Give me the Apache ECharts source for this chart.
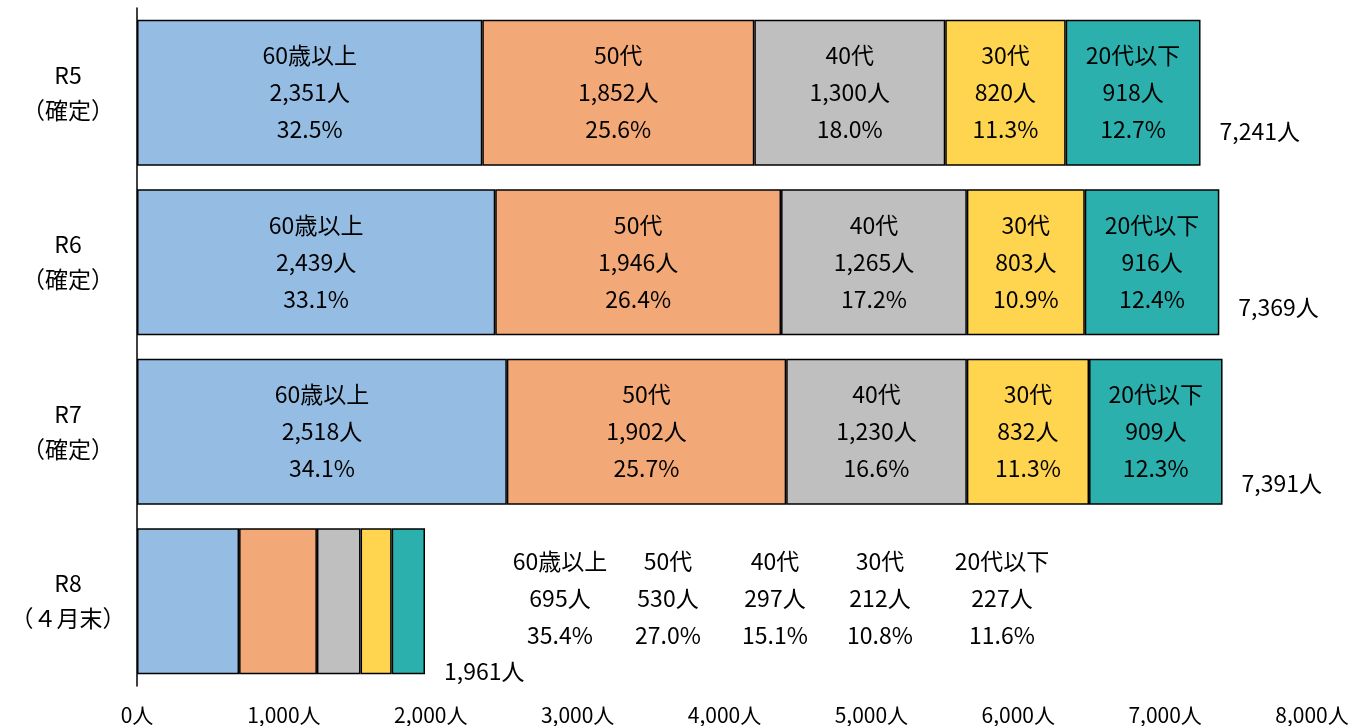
<!DOCTYPE html>
<html>
<head>
<meta charset="utf-8">
<script src="https://cdn.jsdelivr.net/npm/echarts@6/dist/echarts.min.js"></script>
<style>
  html, body { margin: 0; padding: 0; background: #fff; }
  #chart { width: 1352px; height: 726px; }
</style>
</head>
<body>
<div id="chart"></div>
<script>
// data
const categories = ['R5', 'R6', 'R7', 'R8'];
const categoryNotes = ['確定', '確定', '確定', '４月末'];
const groups = ['60歳以上', '50代', '40代', '30代', '20代以下'];
const over60 = [2351, 2439, 2518, 695];
const age50s = [1852, 1946, 1902, 530];
const age40s = [1300, 1265, 1230, 297];
const age30s = [820, 803, 832, 212];
const under20s = [918, 916, 909, 227];
const xTicks = [0, 1000, 2000, 3000, 4000, 5000, 6000, 7000, 8000];

const seriesValues = [over60, age50s, age40s, age30s, under20s];
const totals = categories.map((c, i) => seriesValues.reduce((s, arr) => s + arr[i], 0));

// layout
const FONT = '"Noto Sans CJK JP", "Noto Sans", sans-serif';
const GRID_LEFT = 137, GRID_TOP = 8, GRID_W = 1175, GRID_H = 678;
const X_MAX = 8000;
const colors = ['#95BDE3', '#F3A877', '#BFBFBF', '#FFD44F', '#2BB0AD'];
// R8 labels sit in a row to the right of the short bar
const r8LabelX = [560, 668, 775, 880, 1002];
const totalLabelDy = [39, 45, 52, 70];

const fmt = n => n.toLocaleString('en-US');
const px = v => GRID_LEFT + v * GRID_W / X_MAX;

const series = groups.map((name, si) => ({
  name: name,
  type: 'bar',
  stack: 'total',
  barCategoryGap: '14%',
  itemStyle: { color: colors[si], borderColor: '#000', borderWidth: 1.5 },
  label: {
    show: true,
    position: 'inside',
    color: '#000',
    fontFamily: FONT,
    fontSize: 23,
    lineHeight: 37,
    formatter: p => {
      const pct = (p.value / totals[p.dataIndex] * 100).toFixed(1);
      return name + '\n' + fmt(p.value) + '人\n' + pct + '%';
    }
  },
  data: seriesValues[si].map((v, ci) => {
    if (categories[ci] !== 'R8') return v;
    let start = 0;
    for (let k = 0; k < si; k++) start += seriesValues[k][ci];
    const center = px(start + v / 2);
    return { value: v, label: { offset: [r8LabelX[si] - center, -3] } };
  })
}));

series.push({
  name: '合計',
  type: 'scatter',
  symbolSize: 0,
  silent: true,
  itemStyle: { color: '#000', opacity: 1 },
  data: totals.map((t, i) => ({
    value: [t, categories[i]],
    label: { offset: [0, totalLabelDy[i]], color: '#000' }
  })),
  label: {
    show: true,
    position: 'right',
    distance: 19,
    color: '#000',
    fontFamily: FONT,
    fontSize: 23,
    formatter: p => fmt(p.value[0]) + '人'
  }
});

const chart = echarts.init(document.getElementById('chart'));
chart.setOption({
  animation: false,
  textStyle: { fontFamily: FONT },
  grid: { left: GRID_LEFT, top: GRID_TOP, width: GRID_W, height: GRID_H, containLabel: false },
  xAxis: {
    type: 'value',
    min: xTicks[0],
    max: xTicks[xTicks.length - 1],
    interval: xTicks[1] - xTicks[0],
    axisLine: { show: false },
    axisTick: { show: false },
    splitLine: { show: false },
    axisLabel: {
      color: '#000',
      fontSize: 21,
      margin: 19,
      formatter: v => fmt(v) + '人'
    }
  },
  yAxis: {
    type: 'category',
    inverse: true,
    data: categories,
    axisLine: { show: true, lineStyle: { color: '#000', width: 1.5 } },
    axisTick: { show: false },
    axisLabel: {
      color: '#000',
      fontSize: 23,
      lineHeight: 35,
      align: 'center',
      margin: 69,
      formatter: (v, i) => v + '\n（' + categoryNotes[i] + '）'
    }
  },
  series: series
});
</script>
</body>
</html>
